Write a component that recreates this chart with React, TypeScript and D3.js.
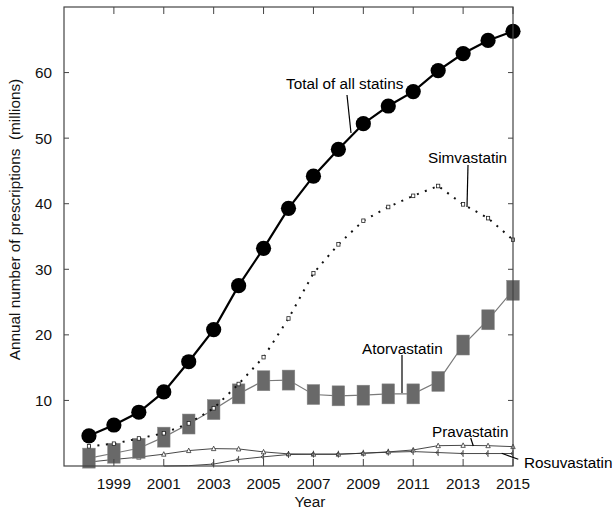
import React from 'react';
import * as d3 from 'd3';

const years = [1998, 1999, 2000, 2001, 2002, 2003, 2004, 2005, 2006, 2007, 2008, 2009, 2010, 2011, 2012, 2013, 2014, 2015];
const total = [4.6, 6.25, 8.2, 11.3, 15.9, 20.8, 27.5, 33.2, 39.3, 44.2, 48.3, 52.2, 54.9, 57.1, 60.3, 62.9, 64.9, 66.3];
const simvastatin = [3.0, 3.4, 4.2, 5.0, 6.5, 8.8, 12.5, 16.6, 22.5, 29.4, 33.8, 37.4, 39.5, 41.2, 42.7, 39.9, 37.8, 34.5];
const atorvastatin = [1.2, 1.95, 2.7, 4.4, 6.4, 8.6, 11.0, 13.0, 13.1, 10.9, 10.7, 10.8, 11.0, 11.0, 12.9, 18.45, 22.3, 26.8];
const pravastatin = [0.6, 1.0, 1.35, 1.8, 2.35, 2.65, 2.6, 2.15, 1.85, 1.8, 1.8, 1.95, 2.15, 2.45, 3.1, 3.15, 3.1, 2.95];
const rosuvYears = [2001, 2002, 2003, 2004, 2005, 2006, 2007, 2008, 2009, 2010, 2011, 2012, 2013, 2014, 2015];
const rosuvastatin = [0, 0.05, 0.3, 1.0, 1.4, 1.75, 1.8, 1.8, 1.95, 2.1, 2.2, 2.05, 1.9, 1.9, 1.9];
const xTicks = [1999, 2001, 2003, 2005, 2007, 2009, 2011, 2013, 2015];
const yTicks = [10, 20, 30, 40, 50, 60];

const FONT = '"Liberation Sans", Arial, sans-serif';
const FS = 15.3;

export default function App() {
  const left = 64, right = 513, top = 7, bottom = 466;
  const x = d3.scaleLinear().domain([1997, 2015]).range([left, right]);
  const y = d3.scaleLinear().domain([0, 70]).range([bottom, top]);
  const line = d3.line<[number, number]>().x(d => x(d[0])).y(d => y(d[1]));
  const pts = (ys: number[], vs: number[]) => ys.map((yr, i) => [yr, vs[i]] as [number, number]);

  const totalPts = pts(years, total);
  const simPts = pts(years, simvastatin);
  const atorPts = pts(years, atorvastatin);
  const pravPts = pts(years, pravastatin);
  const rosuPts = pts(rosuvYears, rosuvastatin);

  const axisColor = '#444';
  const tickLenX = 7, tickLenY = 5;

  return (
    <svg width={613} height={511} style={{ position: 'absolute', left: 0, top: 0, background: '#fff' }} fontFamily={FONT}>
      {/* small series */}
      <path d={line(pravPts) || ''} fill="none" stroke="#333" strokeWidth={0.9} />
      <path d={line(rosuPts) || ''} fill="none" stroke="#333" strokeWidth={0.9} />
      {pravPts.map((p, i) => {
        const cx = x(p[0]), cy = y(p[1]);
        return <path key={'pv' + i} d={`M${cx - 2.2},${cy + 2} L${cx},${cy - 2.5} L${cx + 2.2},${cy + 2} Z`} fill="#fff" stroke="#333" strokeWidth={0.8} />;
      })}
      {rosuPts.filter(p => p[0] >= 2003).map((p, i) => {
        const cx = x(p[0]), cy = y(p[1]);
        return (
          <g key={'ro' + i}>
            <path d={`M${cx},${cy - 3.5} L${cx},${cy + 3.5}`} stroke="#333" strokeWidth={0.8} />
            <path d={`M${cx},${cy - 2} L${cx - 2.5},${cy} L${cx},${cy + 2}`} fill="none" stroke="#333" strokeWidth={0.8} />
          </g>
        );
      })}

      {/* atorvastatin */}
      <path d={line(atorPts) || ''} fill="none" stroke="#7a7a7a" strokeWidth={1.2} />
      {atorPts.map((p, i) => (
        <rect key={'at' + i} x={x(p[0]) - 6.3} y={y(p[1]) - 10} width={12.6} height={20} fill="#696969" stroke="#8a8a8a" strokeWidth={0.5} />
      ))}

      {/* simvastatin */}
      <path d={line(simPts) || ''} fill="none" stroke="#111" strokeWidth={2} strokeDasharray="2 6.5" />
      {simPts.map((p, i) => (
        <rect key={'sv' + i} x={x(p[0]) - 1.6} y={y(p[1]) - 1.8} width={3.2} height={3.6} fill="#fff" stroke="#222" strokeWidth={0.8} />
      ))}

      {/* total */}
      <path d={line(totalPts) || ''} fill="none" stroke="#000" strokeWidth={2.2} />
      {totalPts.map((p, i) => (
        <circle key={'tt' + i} cx={x(p[0])} cy={y(p[1])} r={7.6} fill="#000" />
      ))}

      {/* frame */}
      <rect x={left} y={top} width={right - left} height={bottom - top} fill="none" stroke={axisColor} strokeWidth={1.2} />
      {xTicks.map(t => (
        <g key={'xt' + t}>
          <line x1={x(t)} x2={x(t)} y1={bottom} y2={bottom - tickLenX} stroke={axisColor} strokeWidth={1} />
          <line x1={x(t)} x2={x(t)} y1={top} y2={top + tickLenX} stroke={axisColor} strokeWidth={1} />
          <text x={x(t)} y={bottom + 23} textAnchor="middle" fontSize={FS} fill="#111">{t}</text>
        </g>
      ))}
      {yTicks.map(t => (
        <g key={'yt' + t}>
          <line x1={left} x2={left + tickLenY} y1={y(t)} y2={y(t)} stroke={axisColor} strokeWidth={1} />
          <line x1={right} x2={right - tickLenY} y1={y(t)} y2={y(t)} stroke={axisColor} strokeWidth={1} />
          <text x={52} y={y(t) + 5.5} textAnchor="end" fontSize={FS} fill="#111">{t}</text>
        </g>
      ))}

      <text x={310} y={507} textAnchor="middle" fontSize={FS} fill="#111">Year</text>
      <text transform="translate(20,219.5) rotate(-90)" textAnchor="middle" fontSize={FS} fill="#111" style={{ whiteSpace: 'pre' }}>
        {'Annual number of prescriptions  (millions)'}
      </text>

      {/* annotations */}
      <text x={286} y={88.5} fontSize={FS} fill="#000">Total of all statins</text>
      <line x1={347} y1={95} x2={351} y2={133} stroke="#000" strokeWidth={1.2} />

      <text x={428} y={162.5} fontSize={FS} fill="#000">Simvastatin</text>
      <line x1={468} y1={165} x2={467} y2={207} stroke="#000" strokeWidth={1.2} />

      <text x={362} y={353.5} fontSize={FS} fill="#000">Atorvastatin</text>
      <line x1={402} y1={355} x2={402} y2={393} stroke="#000" strokeWidth={1.2} />

      <text x={432} y={436.5} fontSize={FS} fill="#000">Pravastatin</text>
      <line x1={470.7} y1={438} x2={473.3} y2={446} stroke="#000" strokeWidth={1.2} />

      <text x={524} y={468} fontSize={FS} fill="#000">Rosuvastatin</text>
      <line x1={501.7} y1={453.3} x2={518.3} y2={459.3} stroke="#000" strokeWidth={1.2} />
    </svg>
  );
}
